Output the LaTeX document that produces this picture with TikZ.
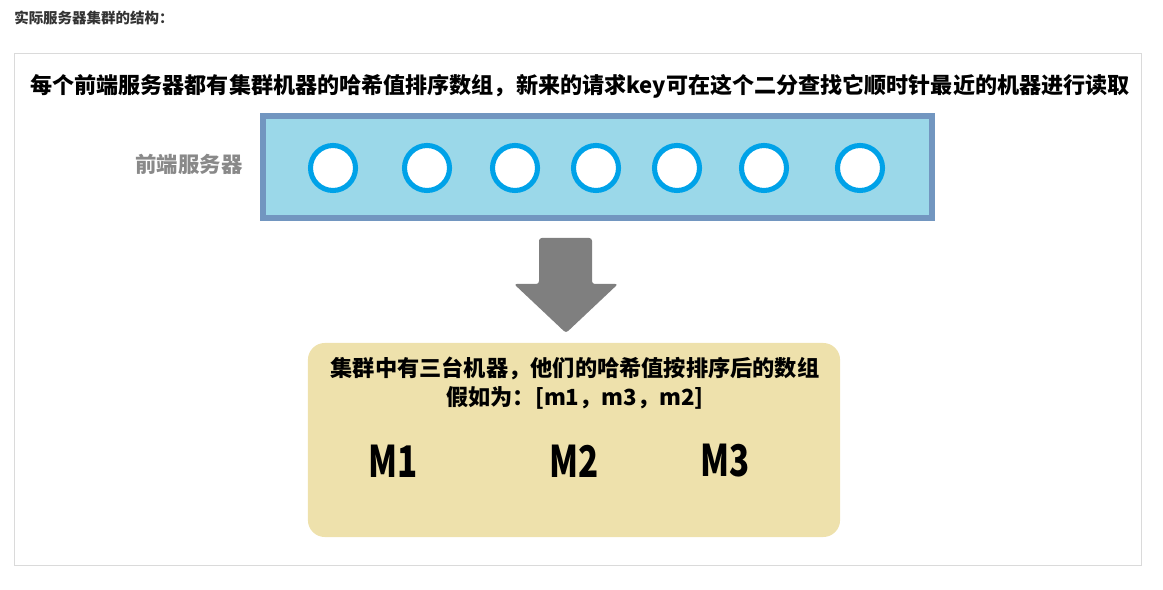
\documentclass[tikz,border=0pt]{standalone}
\usepackage{fontspec}
\newfontfamily\cjk{Noto Sans CJK SC}
\usetikzlibrary{positioning}
\definecolor{frame_gray}   {RGB} {218,218,218}
\definecolor{caption_gray} {RGB} {51,51,51}
\definecolor{label_gray}   {RGB} {137,137,137}
\definecolor{server_edge}  {RGB} {114,150,192}
\definecolor{server_fill}  {RGB} {155,216,233}
\definecolor{ring_blue}    {RGB} {0,162,232}
\definecolor{arrow_gray}   {RGB} {127,127,127}
\definecolor{box_sand}     {RGB} {238,225,172}

\begin{document}
\begin{tikzpicture}[x=0.025cm,y=-0.025cm]
\useasboundingbox (0,0) rectangle (1163,590);
\node[anchor=west,inner sep=0,text=caption_gray,font=\cjk\bfseries\fontsize{10.3}{12}\selectfont] (caption) at (14,18) {实际服务器集群的结构：};
\draw[frame_gray] (14,53) rectangle (1141,565);
\node[inner sep=0,font=\cjk\bfseries\fontsize{15.7}{18}\selectfont] (title) at (580,86) {每个前端服务器都有集群机器的哈希值排序数组，新来的请求key可在这个二分查找它顺时针最近的机器进行读取};
\node[draw=server_edge,fill=server_fill,line width=4.6pt,minimum width=16.71cm,minimum height=2.54cm,inner sep=0] (servers) at (597.5,167) {};
\node[text=label_gray,inner sep=0,font=\cjk\bfseries\fontsize{15.2}{17}\selectfont] (frontend) at (189,164) {前端服务器};
\node[draw=ring_blue,fill=white,circle,line width=3.6pt,minimum size=1.125cm,inner sep=0] (s1) at (333,168) {};
\node[draw=ring_blue,fill=white,circle,line width=3.6pt,minimum size=1.125cm,inner sep=0] (s2) at (427,168) {};
\node[draw=ring_blue,fill=white,circle,line width=3.6pt,minimum size=1.125cm,inner sep=0] (s3) at (515,168) {};
\node[draw=ring_blue,fill=white,circle,line width=3.6pt,minimum size=1.125cm,inner sep=0] (s4) at (596,168) {};
\node[draw=ring_blue,fill=white,circle,line width=3.6pt,minimum size=1.125cm,inner sep=0] (s5) at (677,168) {};
\node[draw=ring_blue,fill=white,circle,line width=3.6pt,minimum size=1.125cm,inner sep=0] (s6) at (764,168) {};
\node[draw=ring_blue,fill=white,circle,line width=3.6pt,minimum size=1.125cm,inner sep=0] (s7) at (860,168) {};
\fill[arrow_gray,rounded corners=2] (539,238) -- (592,238) -- (592,284) -- (618,284) -- (566,333) -- (514,284) -- (539,284) -- cycle;
\node[fill=box_sand,rounded corners=12,minimum width=13.3cm,minimum height=4.85cm,inner sep=0] (box) at (574,440) {};
\node[inner sep=0,align=center,font=\cjk\bfseries\fontsize{15.8}{20.6}\selectfont] (boxtext) at (575,383) {集群中有三台机器，他们的哈希值按排序后的数组\\假如为：[m1，m3，m2]};
\node[inner sep=0,font=\cjk\bfseries\fontsize{31}{31}\selectfont] (m1) at (393,461) {\scalebox{0.76}[1]{M1}};
\node[inner sep=0,font=\cjk\bfseries\fontsize{31}{31}\selectfont] (m2) at (574,461) {\scalebox{0.76}[1]{M2}};
\node[inner sep=0,font=\cjk\bfseries\fontsize{31}{31}\selectfont] (m3) at (725,461) {\scalebox{0.76}[1]{M3}};
\end{tikzpicture}
\end{document}
